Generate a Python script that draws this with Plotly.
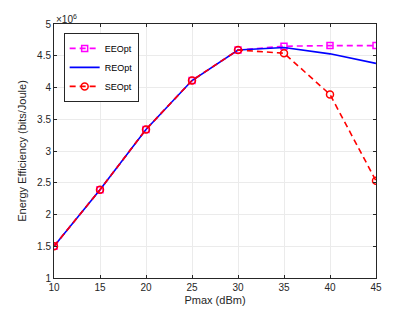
import plotly.graph_objects as go

pmax = [10, 15, 20, 25, 30, 35, 40, 45]
ee_opt = [1.50, 2.39, 3.34, 4.11, 4.59, 4.65, 4.66, 4.66]
re_opt = [1.50, 2.39, 3.34, 4.11, 4.59, 4.63, 4.53, 4.38]
se_opt = [1.50, 2.39, 3.34, 4.11, 4.59, 4.54, 3.89, 2.53]
yticks = [1, 1.5, 2, 2.5, 3, 3.5, 4, 4.5, 5]

font = "Liberation Sans, Arial, sans-serif"
fig = go.Figure()
fig.add_trace(go.Scatter(x=pmax, y=ee_opt, name="EEOpt", mode="lines+markers",
                         line=dict(color="#ff00ff", width=1.6, dash="6px,4px"),
                         marker=dict(symbol="square-open", size=6, color="#ff00ff", line=dict(width=1.5))))
fig.add_trace(go.Scatter(x=pmax, y=re_opt, name="REOpt", mode="lines",
                         line=dict(color="#0000ff", width=1.6)))
fig.add_trace(go.Scatter(x=pmax, y=se_opt, name="SEOpt", mode="lines+markers",
                         line=dict(color="#ff0000", width=1.6, dash="6px,4px"),
                         marker=dict(symbol="circle-open", size=7, color="#ff0000", line=dict(width=1.5))))

axis_common = dict(showgrid=True, gridcolor="#ebebeb", gridwidth=1, showline=True,
                   linecolor="#262626", linewidth=1, mirror="ticks", ticks="inside",
                   ticklen=3, tickcolor="#262626", zeroline=False, automargin=False,
                   tickfont=dict(family=font, size=10, color="#262626"))
fig.update_xaxes(range=[10, 45], tickvals=pmax, title=dict(text="Pmax (dBm)", standoff=4,
                 font=dict(family=font, size=11, color="#262626")), **axis_common)
fig.update_yaxes(range=[1, 5], tickvals=yticks, ticktext=[f"{v:g}" for v in yticks],
                 title=dict(text="Energy Efficiency (bits/Joule)", standoff=8,
                            font=dict(family=font, size=11, color="#262626")), **axis_common)

fig.add_annotation(xref="paper", yref="paper", x=0, y=1, xanchor="left", yanchor="bottom",
                   text="×10<sup>6</sup>", showarrow=False, yshift=-3,
                   font=dict(family=font, size=10, color="#262626"))

fig.update_layout(width=407, height=304, margin=dict(l=46, r=39, t=16, b=34),
                  plot_bgcolor="white", paper_bgcolor="white",
                  showlegend=True,
                  legend=dict(x=0.03, y=0.965, xanchor="left", yanchor="top",
                              bgcolor="white", bordercolor="#262626", borderwidth=1,
                              font=dict(family=font, size=9, color="black"),
                              tracegroupgap=0, itemwidth=30, traceorder="normal"))
fig.write_html("out.html")
